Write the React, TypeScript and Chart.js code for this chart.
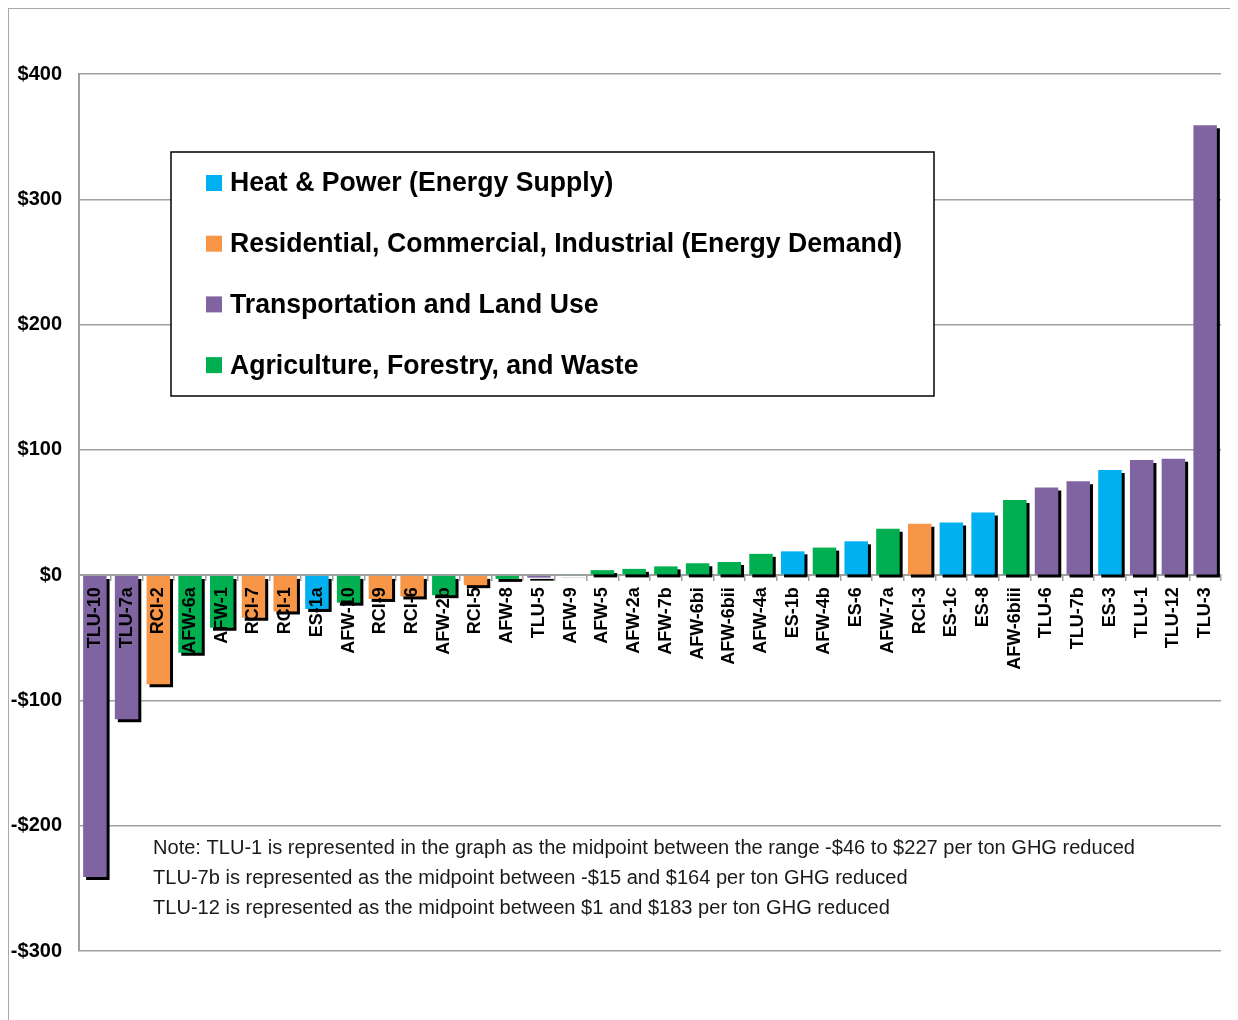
import React, { useEffect, useRef } from 'react';
import { Chart, registerables } from 'chart.js';

Chart.register(...registerables);

const categories = [
  'TLU-10', 'TLU-7a', 'RCI-2', 'AFW-6a', 'AFW-1', 'RCI-7', 'RCI-1', 'ES-1a', 'AFW-10',
  'RCI-9', 'RCI-6', 'AFW-2b', 'RCI-5', 'AFW-8', 'TLU-5', 'AFW-9', 'AFW-5', 'AFW-2a',
  'AFW-7b', 'AFW-6bi', 'AFW-6bii', 'AFW-4a', 'ES-1b', 'AFW-4b', 'ES-6', 'AFW-7a',
  'RCI-3', 'ES-1c', 'ES-8', 'AFW-6biii', 'TLU-6', 'TLU-7b', 'ES-3', 'TLU-1', 'TLU-12', 'TLU-3',
];

const costValues = [
  -241, -115, -87, -62, -42, -34, -29, -27, -22,
  -19, -17, -16, -8, -3, -2, 0.5, 4, 5,
  7, 9.5, 10.5, 17, 19, 22, 27, 37,
  41, 42, 50, 60, 70, 75, 84, 92, 93, 359,
];

const seriesLabels = [
  'Heat & Power (Energy Supply)',
  'Residential, Commercial, Industrial (Energy Demand)',
  'Transportation and Land Use',
  'Agriculture, Forestry, and Waste',
];
const seriesPrefixes = ['ES', 'RCI', 'TLU', 'AFW'];
const seriesColors = ['#00B0F0', '#F79646', '#8064A2', '#00B050'];

const yMin = -300;
const yMax = 400;
const yStep = 100;

const noteLines = [
  'Note: TLU-1 is represented in the graph as the midpoint between the range -$46 to $227 per ton GHG reduced',
  'TLU-7b is represented as the midpoint between -$15 and $164 per ton GHG reduced',
  'TLU-12 is represented as the midpoint between $1 and $183 per ton GHG reduced',
];

const FONT = '"Liberation Sans", Arial, sans-serif';

const shadowPlugin = {
  id: 'barShadow',
  beforeDatasetsDraw(chart: any) {
    const ctx = chart.ctx;
    ctx.save();
    ctx.shadowColor = '#000000';
    ctx.shadowOffsetX = 3;
    ctx.shadowOffsetY = 3;
    ctx.shadowBlur = 0;
  },
  afterDatasetsDraw(chart: any) {
    chart.ctx.restore();
  },
};

const overlayPlugin = {
  id: 'overlay',
  afterDraw(chart: any) {
    const ctx = chart.ctx;
    const ca = chart.chartArea;
    // legend box
    const bx = ca.left + 92;
    const by = ca.top + 78;
    const bw = 763;
    const bh = 244;
    ctx.save();
    ctx.fillStyle = '#ffffff';
    ctx.fillRect(bx, by, bw, bh);
    ctx.strokeStyle = '#000000';
    ctx.lineWidth = 1.5;
    ctx.strokeRect(bx, by, bw, bh);
    ctx.font = `bold 27px ${FONT}`;
    const longest = ctx.measureText(seriesLabels[1]).width;
    const sx = 672 / longest;
    ctx.textBaseline = 'middle';
    ctx.textAlign = 'left';
    chart.data.datasets.forEach((ds: any, i: number) => {
      const cy = by + 31 + i * 60.7;
      ctx.fillStyle = ds.backgroundColor;
      ctx.fillRect(bx + 35, cy - 8, 16, 16);
      ctx.fillStyle = '#000000';
      ctx.save();
      ctx.translate(bx + 59, cy + 1);
      ctx.scale(sx, 1);
      ctx.fillText(ds.label, 0, 0);
      ctx.restore();
    });
    // note
    ctx.font = `20px ${FONT}`;
    const nw = ctx.measureText(noteLines[0]).width;
    const nsx = 982 / nw;
    ctx.fillStyle = '#1a1a1a';
    noteLines.forEach((line, i) => {
      ctx.save();
      ctx.translate(ca.left + 74, ca.top + 774 + i * 30);
      ctx.scale(nsx, 1);
      ctx.fillText(line, 0, 0);
      ctx.restore();
    });
    ctx.restore();
  },
};

export default function App() {
  const ref = useRef<HTMLCanvasElement | null>(null);

  useEffect(() => {
    document.documentElement.style.overflow = 'hidden';
    if (!ref.current) return;
    const datasets = seriesPrefixes.map((p, i) => ({
      label: seriesLabels[i],
      data: categories.map((c, j) => (c.startsWith(p + '-') ? costValues[j] : null)),
      backgroundColor: seriesColors[i],
      borderWidth: 0,
      grouped: false,
      barPercentage: 0.74,
      categoryPercentage: 1,
    }));
    const chart = new Chart(ref.current, {
      type: 'bar',
      data: { labels: categories, datasets },
      options: {
        animation: false,
        responsive: false,
        layout: { padding: { top: 65, right: 17, bottom: 69, left: 0 } },
        plugins: {
          legend: { display: false },
          tooltip: { enabled: false },
        },
        scales: {
          x: {
            type: 'category',
            position: { y: 0 } as any,
            offset: true,
            grid: {
              offset: true,
              drawOnChartArea: false,
              drawTicks: true,
              tickLength: 5,
              color: '#a0a0a0',
              lineWidth: 1.5,
            },
            border: { display: true, color: '#a0a0a0', width: 2 },
            ticks: {
              z: 1,
              autoSkip: false,
              minRotation: 90,
              maxRotation: 90,
              padding: 7,
              color: '#000000',
              font: { family: FONT, size: 18, weight: 'bold' },
            },
          },
          y: {
            min: yMin,
            max: yMax,
            afterFit(scale: any) {
              scale.width = 70;
            },
            ticks: {
              stepSize: yStep,
              padding: 17,
              color: '#000000',
              font: { family: FONT, size: 20, weight: 'bold' },
              callback: (v: any) => (Number(v) < 0 ? '-$' : '$') + Math.abs(Number(v)),
            },
            grid: { color: '#a0a0a0', lineWidth: 1.5, drawTicks: false },
            border: { display: true, color: '#a0a0a0', width: 2 },
          },
        },
      },
      plugins: [shadowPlugin, overlayPlugin],
    });
    return () => chart.destroy();
  }, []);

  return (
    <div
      style={{
        width: 1240,
        height: 1011,
        marginTop: -1,
        marginLeft: -1,
        borderTop: '2px solid #a8a8a8',
        borderLeft: '2px solid #a8a8a8',
        background: '#ffffff',
      }}
    >
      <canvas ref={ref} width={1229} height={1011} style={{ display: 'block' }} />
    </div>
  );
}
